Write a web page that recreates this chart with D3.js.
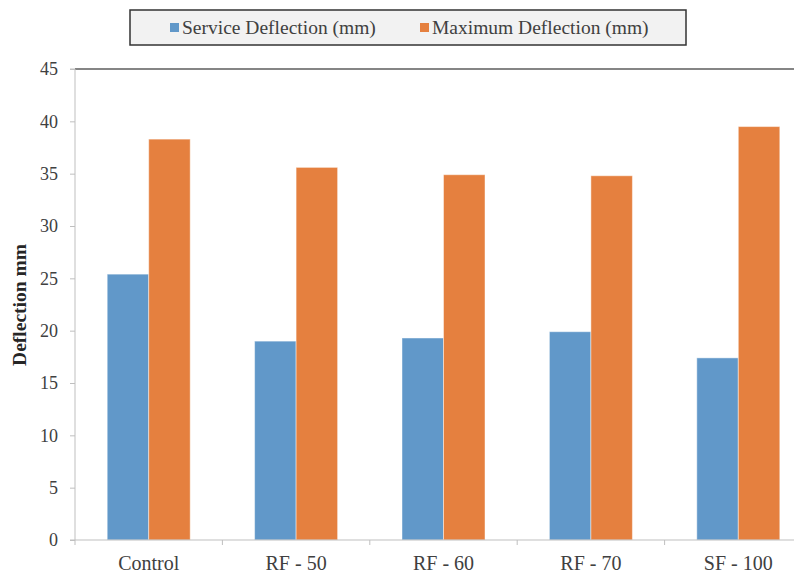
<!DOCTYPE html>
<html>
<head>
<meta charset="utf-8">
<script src="https://cdn.jsdelivr.net/npm/d3@7"></script>
<style>
  html, body { margin: 0; padding: 0; background: #fff; }
  svg { display: block; }
  text { font-family: "Liberation Serif", "DejaVu Serif", serif; }
</style>
</head>
<body>
<svg id="chart" width="794" height="575"></svg>
<script>
// Mid-span deflection of the beam specimens
const categories = ["Control", "RF - 50", "RF - 60", "RF - 70", "SF - 100"];
const seriesNames = ["Service Deflection (mm)", "Maximum Deflection (mm)"];
const serviceDeflection = [25.4, 19.0, 19.3, 19.9, 17.4];
const maximumDeflection = [38.3, 35.6, 34.9, 34.8, 39.5];
const yTicks = [0, 5, 10, 15, 20, 25, 30, 35, 40, 45];
const colors = ["#6198c9", "#e5803f"];

const svg = d3.select("#chart");

const plotLeft = 75, plotRight = 812, plotTop = 69, plotBottom = 540;

const x = d3.scaleBand().domain(categories).range([plotLeft, plotRight]).paddingInner(0).paddingOuter(0);
const groupWidth = 83;
const xs = d3.scaleBand().domain(seriesNames).range([0, groupWidth]).padding(0);
const y = d3.scaleLinear().domain([0, 45]).range([plotBottom, plotTop]);

const table = categories.map((c, i) => ({
  category: c,
  values: [serviceDeflection[i], maximumDeflection[i]]
}));

// plot area top border
svg.append("line")
  .attr("x1", plotLeft).attr("x2", 794)
  .attr("y1", plotTop).attr("y2", plotTop)
  .attr("stroke", "#858585").attr("stroke-width", 2);

// bars
const groups = svg.append("g").selectAll("g")
  .data(table).join("g")
  .attr("transform", d => `translate(${x(d.category) + (x.bandwidth() - groupWidth) / 2},0)`);

groups.selectAll("rect")
  .data(d => d.values.map((v, k) => ({ key: seriesNames[k], value: v, k })))
  .join("rect")
  .attr("x", d => xs(d.key))
  .attr("width", xs.bandwidth())
  .attr("y", d => y(d.value))
  .attr("height", d => y(0) - y(d.value))
  .attr("fill", d => colors[d.k])
  .attr("stroke", "#ffffff")
  .attr("stroke-opacity", 0.45)
  .attr("stroke-width", 1);

// y axis
const yAxis = d3.axisLeft(y).tickValues(yTicks).tickSize(5).tickPadding(12).tickFormat(d3.format("d"));
const gy = svg.append("g").attr("transform", `translate(${plotLeft},0)`).call(yAxis);
gy.attr("font-family", null);
gy.select(".domain").attr("stroke", "#bfbfbf").attr("d", `M-5,${plotTop}H0V${plotBottom}H-5`);
gy.selectAll(".tick line").attr("stroke", "#bfbfbf");
gy.selectAll(".tick text").attr("font-size", 18).attr("fill", "#404040");

// x axis with ticks at the category boundaries
const gx = svg.append("g").attr("transform", `translate(0,${plotBottom})`);
gx.append("line").attr("x1", plotLeft).attr("x2", 794).attr("y1", 0).attr("y2", 0)
  .attr("stroke", "#bfbfbf");
const boundaries = categories.map(c => x(c)).concat([plotRight]);
gx.selectAll("line.tk").data(boundaries).join("line").attr("class", "tk")
  .attr("x1", d => d).attr("x2", d => d).attr("y1", 0).attr("y2", 5)
  .attr("stroke", "#bfbfbf");
gx.selectAll("text").data(categories).join("text")
  .attr("x", d => x(d) + x.bandwidth() / 2)
  .attr("y", 30)
  .attr("text-anchor", "middle")
  .attr("font-size", 20)
  .attr("fill", "#404040")
  .text(d => d);

// y axis title
svg.append("text")
  .attr("transform", "translate(26,305) rotate(-90)")
  .attr("text-anchor", "middle")
  .attr("font-size", 19.5)
  .attr("font-weight", "bold")
  .attr("fill", "#262626")
  .text("Deflection mm");

// legend
const legend = svg.append("g");
legend.append("rect")
  .attr("x", 130).attr("y", 10).attr("width", 556).attr("height", 35)
  .attr("fill", "#f2f2f2").attr("stroke", "#333333").attr("stroke-width", 1.5);
const legendX = [170, 420];
seriesNames.forEach((name, k) => {
  legend.append("rect")
    .attr("x", legendX[k]).attr("y", 23).attr("width", 9).attr("height", 9)
    .attr("fill", colors[k]);
  legend.append("text")
    .attr("x", legendX[k] + 12).attr("y", 34)
    .attr("font-size", 19.5)
    .attr("fill", "#404040")
    .text(name);
});
</script>
</body>
</html>
